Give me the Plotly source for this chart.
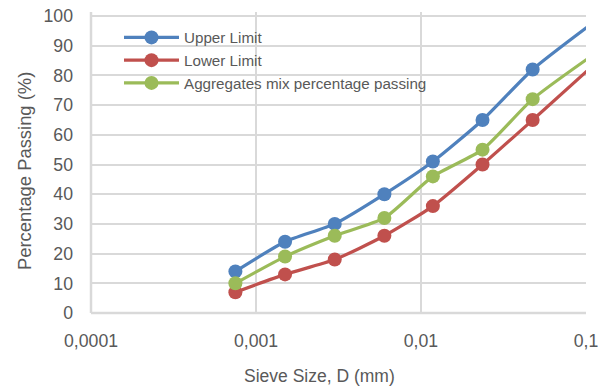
import plotly.graph_objects as go

# Sieve sizes (mm) and percentage passing for each grading curve
sieve_size = [0.00075, 0.0015, 0.003, 0.006, 0.0118, 0.0236, 0.0475, 0.125]
upper_limit = [14, 24, 30, 40, 51, 65, 82, 100]
lower_limit = [7, 13, 18, 26, 36, 50, 65, 86]
mix_passing = [10, 19, 26, 32, 46, 55, 72, 89]

x_tick_vals = [0.0001, 0.001, 0.01, 0.1]
x_tick_text = ["0,0001", "0,001", "0,01", "0,1"]
y_tick_vals = [0, 10, 20, 30, 40, 50, 60, 70, 80, 90, 100]

series_names = ["Upper Limit", "Lower Limit", "Aggregates mix percentage passing"]
series_colors = ["#4F81BD", "#C0504D", "#9BBB59"]

FONT = "Liberation Sans, Arial, sans-serif"
TEXT = "#595959"
GRID = "#D9D9D9"

W, H = 607, 390
ML, MR, MT, MB = 91, 21, 12, 77
PW, PH = W - ML - MR, H - MT - MB

fig = go.Figure()
for name, ys, col in zip(series_names, [upper_limit, lower_limit, mix_passing], series_colors):
    fig.add_trace(go.Scatter(
        x=sieve_size, y=ys, name=name, mode="lines+markers",
        line=dict(color=col, width=3.2, shape="spline", smoothing=0.6),
        marker=dict(color=col, size=14),
        cliponaxis=True,
    ))

def px_x(p):
    return (p - ML) / PW

def px_y(p):
    return (H - MB - p) / PH

fig.update_layout(
    width=W, height=H,
    margin=dict(l=ML, r=MR, t=MT, b=MB, autoexpand=False),
    paper_bgcolor="white", plot_bgcolor="white",
    font=dict(family=FONT, color=TEXT, size=17.5),
    showlegend=True,
    legend=dict(
        x=px_x(119), y=px_y(21), xanchor="left", yanchor="top",
        bgcolor="rgba(0,0,0,0)", font=dict(size=15.2, color=TEXT),
        itemwidth=55, tracegroupgap=0,
    ),
    xaxis=dict(
        type="log", range=[-4, -1], automargin=False,
        tickvals=x_tick_vals, ticktext=x_tick_text,
        showgrid=True, gridcolor=GRID, gridwidth=2,
        showline=False, zeroline=False, ticks="",
        ticklabelstandoff=15,
        tickfont=dict(size=17.7, color=TEXT),
    ),
    yaxis=dict(
        range=[0, 100 * PH / 297], automargin=False,
        tickvals=y_tick_vals,
        showgrid=True, gridcolor=GRID, gridwidth=2,
        showline=False, zeroline=False, ticks="",
        ticklabelstandoff=17,
        tickfont=dict(size=17.7, color=TEXT),
    ),
    shapes=[
        # white panel behind the legend, hiding the gridlines there
        dict(type="rect", xref="paper", yref="paper",
             x0=px_x(108), x1=px_x(442), y0=px_y(98), y1=px_y(21),
             fillcolor="white", line=dict(width=0), layer="between"),
        # axis lines along the bottom and left edge
        dict(type="line", xref="paper", yref="paper",
             x0=0, x1=1, y0=0, y1=0, line=dict(color=GRID, width=2.5)),
        dict(type="line", xref="paper", yref="paper",
             x0=0, x1=0, y0=0, y1=1, line=dict(color=GRID, width=2.5)),
    ],
    annotations=[
        dict(text="Sieve Size, D (mm)", xref="paper", yref="paper",
             x=px_x(319), y=px_y(376), xanchor="center", yanchor="middle",
             showarrow=False, font=dict(size=17.5, color=TEXT)),
        dict(text="Percentage Passing (%)", xref="paper", yref="paper",
             x=px_x(24), y=px_y(171), xanchor="center", yanchor="middle",
             textangle=-90, showarrow=False, font=dict(size=18.4, color=TEXT)),
    ],
)

fig.write_html("out.html")
